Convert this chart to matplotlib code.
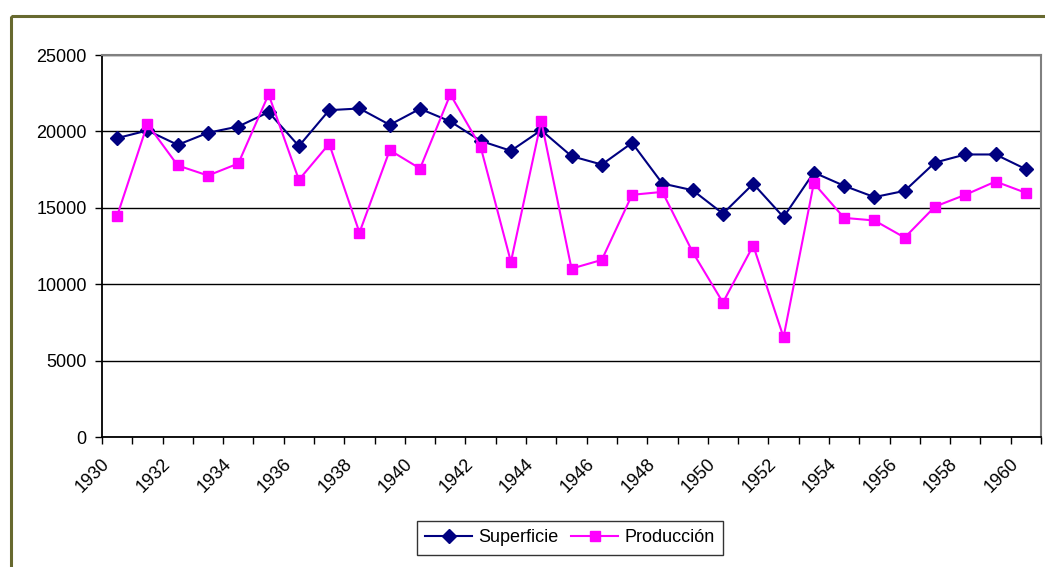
import numpy as np
import matplotlib.pyplot as plt
from matplotlib.patches import Rectangle
from matplotlib.ticker import MultipleLocator, FixedLocator
import matplotlib.transforms as mtransforms

plt.rcParams['font.family'] = ['Liberation Sans', 'DejaVu Sans']

years = list(range(1930, 1961))
superficie = [19560, 20060, 19120, 19910, 20320, 21260, 19040, 21390, 21500, 20430,
              21480, 20650, 19380, 18730, 20080, 18380, 17830, 19250, 16590, 16150,
              14620, 16570, 14390, 17310, 16440, 15700, 16110, 17960, 18490, 18490,
              17530]
produccion = [14470, 20480, 17770, 17110, 17900, 22420, 16830, 19190, 13380, 18770,
              17570, 22420, 18990, 11460, 20690, 11020, 11590, 15850, 16040, 12100,
              8800, 12530, 6530, 16610, 14340, 14170, 13050, 15080, 15850, 16720,
              15980]

W, H = 1045, 567
fig = plt.figure(figsize=(W / 100, H / 100), dpi=100)
fig.patch.set_facecolor('white')

# olive outer frame (cut off at right/bottom in the original)
fig.patches.append(Rectangle((10.5 / W, 1 - 15.5 / H), 2, -2, transform=fig.transFigure,
                             fill=False, edgecolor='#67692F', linewidth=2.2))

ax = fig.add_axes([102 / W, 1 - 437 / H, (1041 - 102) / W, (437 - 55) / H])

x = np.arange(len(years))
ax.plot(x, superficie, color='#000080', lw=1.5, marker='D', ms=7.5, label='Superficie', zorder=3)
ax.plot(x, produccion, color='#FF00FF', lw=1.5, marker='s', ms=7.5, label='Producción', zorder=3)

ax.set_xlim(-0.5, len(years) - 0.5)
ax.set_ylim(0, 25000)
ax.yaxis.set_major_locator(MultipleLocator(5000))
ax.grid(axis='y', color='black', lw=1)
ax.set_axisbelow(True)

for s in ['top', 'right']:
    ax.spines[s].set_color('#808080')
    ax.spines[s].set_linewidth(1.5)
for s in ['left', 'bottom']:
    ax.spines[s].set_color('black')
    ax.spines[s].set_linewidth(1.3)

# ticks at category boundaries, labels every other year at category centres
ax.xaxis.set_minor_locator(FixedLocator(np.arange(-0.5, len(years), 1)))
ax.set_xticks(x[::2])
ax.set_xticklabels([str(y) for y in years[::2]], rotation=45, ha='right',
                   rotation_mode='anchor', fontsize=13)
ax.tick_params(axis='x', which='major', length=0, pad=13.5)
ax.tick_params(axis='x', which='minor', length=5, width=1, direction='out')
ax.tick_params(axis='y', length=5, width=1, direction='out', labelsize=13, pad=6)
offset = mtransforms.ScaledTranslation(-16 / 100, 0, fig.dpi_scale_trans)
for lab in ax.get_xticklabels():
    lab.set_transform(lab.get_transform() + offset)

leg = ax.legend(loc='center', bbox_to_anchor=(570 / W, 1 - 538 / H),
                bbox_transform=fig.transFigure, ncol=2, fontsize=13,
                frameon=True, fancybox=False, handlelength=2.6, columnspacing=0.7,
                handletextpad=0.35, borderpad=0.45, borderaxespad=0)
leg.get_frame().set_edgecolor('black')
leg.get_frame().set_linewidth(1)

fig.savefig('out.png', dpi=100)
